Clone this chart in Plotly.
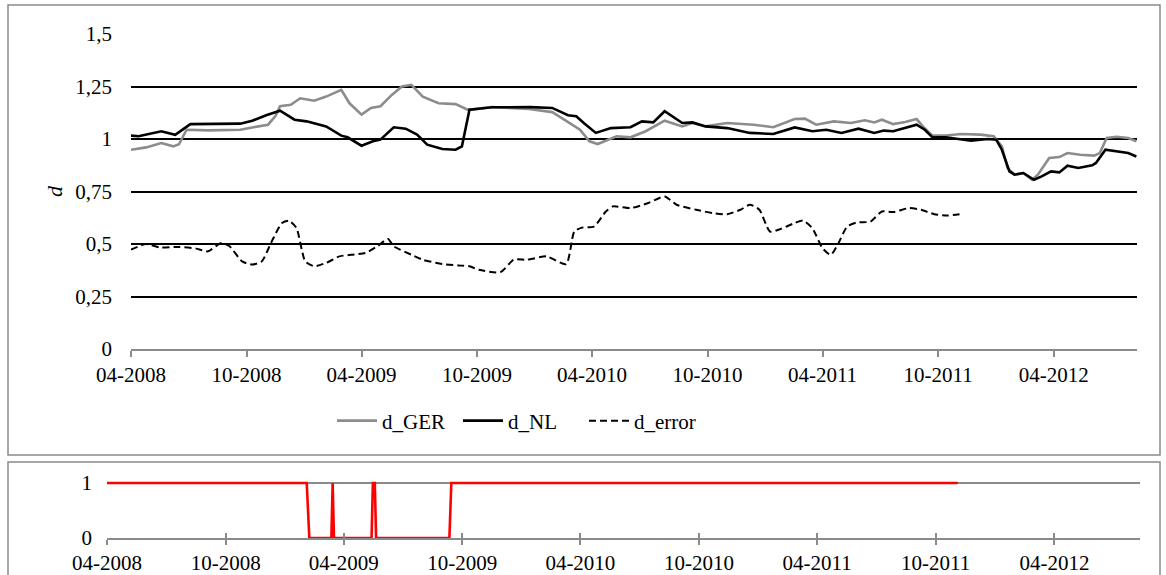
import plotly.graph_objects as go

# ---------------- data ----------------
ger_dates = ["2008-04-01","2008-04-25","2008-05-19","2008-06-07","2008-06-16","2008-06-28","2008-08-01","2008-09-01",
             "2008-09-21","2008-10-10","2008-11-04","2008-11-16","2008-11-23","2008-12-10","2008-12-25","2009-01-16",
             "2009-02-04","2009-02-28","2009-03-13","2009-04-01","2009-04-16","2009-05-01","2009-05-19","2009-06-04",
             "2009-06-19","2009-07-07","2009-08-01","2009-08-28","2009-09-16","2009-09-22","2009-10-25","2009-12-22",
             "2010-01-28","2010-02-16","2010-03-13","2010-03-28","2010-04-10","2010-05-10","2010-06-01","2010-06-25",
             "2010-07-25","2010-08-22","2010-09-07","2010-09-28","2010-11-01","2010-12-13","2011-01-13","2011-02-16",
             "2011-03-04","2011-03-22","2011-04-19","2011-05-16","2011-06-07","2011-06-22","2011-07-04","2011-07-22",
             "2011-08-10","2011-08-28","2011-09-07","2011-09-22","2011-10-13","2011-11-07","2011-12-07","2011-12-28",
             "2012-01-10","2012-01-19","2012-01-30","2012-02-13","2012-02-27","2012-03-07","2012-03-25","2012-04-10",
             "2012-04-23","2012-05-13","2012-06-04","2012-06-13","2012-06-24","2012-07-10","2012-07-28","2012-08-10"]
ger_vals = [0.949,0.960,0.981,0.965,0.975,1.044,1.041,1.043,
            1.044,1.055,1.068,1.110,1.156,1.163,1.194,1.182,
            1.202,1.234,1.170,1.116,1.148,1.156,1.210,1.250,
            1.258,1.202,1.170,1.166,1.140,1.140,1.152,1.143,
            1.128,1.092,1.044,0.989,0.976,1.013,1.008,1.037,
            1.087,1.060,1.076,1.060,1.076,1.068,1.056,1.095,
            1.097,1.068,1.084,1.076,1.089,1.079,1.092,1.071,
            1.081,1.095,1.060,1.016,1.017,1.024,1.021,1.013,
            0.965,0.862,0.830,0.838,0.806,0.830,0.910,0.914,
            0.933,0.925,0.921,0.933,1.005,1.011,1.005,0.989]

nl_dates = ["2008-04-01","2008-04-13","2008-05-19","2008-06-10","2008-07-04","2008-08-16","2008-09-21","2008-10-10",
            "2008-11-01","2008-11-23","2008-12-16","2009-01-04","2009-01-21","2009-02-04","2009-02-28","2009-03-10",
            "2009-04-01","2009-04-19","2009-05-01","2009-05-22","2009-06-10","2009-06-28","2009-07-14","2009-08-07",
            "2009-08-28","2009-09-07","2009-09-19","2009-10-25","2009-12-25","2010-01-28","2010-02-22","2010-03-07",
            "2010-03-19","2010-04-07","2010-05-01","2010-06-01","2010-06-19","2010-07-07","2010-07-25","2010-08-22",
            "2010-09-07","2010-09-28","2010-11-01","2010-12-07","2011-01-13","2011-02-16","2011-03-16","2011-04-07",
            "2011-05-01","2011-05-28","2011-06-22","2011-07-07","2011-07-22","2011-08-13","2011-08-28","2011-09-10",
            "2011-09-22","2011-10-13","2011-11-01","2011-11-22","2011-12-19","2012-01-01","2012-01-10","2012-01-22",
            "2012-01-30","2012-02-13","2012-03-01","2012-03-13","2012-03-28","2012-04-10","2012-04-23","2012-05-10",
            "2012-06-01","2012-06-07","2012-06-22","2012-07-07","2012-07-28","2012-08-10"]
nl_vals = [1.016,1.013,1.037,1.020,1.071,1.072,1.073,1.087,
           1.113,1.135,1.092,1.084,1.071,1.060,1.016,1.008,
           0.968,0.989,0.997,1.056,1.049,1.021,0.973,0.952,
           0.949,0.965,1.140,1.151,1.152,1.148,1.113,1.108,
           1.076,1.029,1.052,1.056,1.084,1.079,1.132,1.076,
           1.079,1.060,1.052,1.029,1.024,1.055,1.037,1.044,
           1.029,1.049,1.029,1.040,1.037,1.056,1.068,1.044,
           1.008,1.008,1.002,0.992,1.000,0.997,0.949,0.846,
           0.830,0.838,0.806,0.822,0.846,0.841,0.873,0.862,
           0.875,0.886,0.949,0.941,0.933,0.917]

err_dates = ["2008-04-01","2008-04-25","2008-05-16","2008-06-16","2008-07-13","2008-08-01","2008-08-22","2008-09-04",
             "2008-09-24","2008-10-10","2008-10-25","2008-11-10","2008-11-26","2008-12-07","2008-12-19","2009-01-02",
             "2009-01-16","2009-02-04","2009-02-25","2009-03-16","2009-04-07","2009-04-26","2009-05-13","2009-05-22",
             "2009-06-19","2009-07-07","2009-08-07","2009-09-01","2009-09-19","2009-10-04","2009-11-07","2009-11-28",
             "2009-12-19","2010-01-19","2010-02-19","2010-03-04","2010-03-16","2010-04-04","2010-04-23","2010-05-04",
             "2010-06-01","2010-06-28","2010-07-25","2010-08-13","2010-09-13","2010-10-10","2010-11-01","2010-11-22",
             "2010-12-07","2010-12-22","2011-01-08","2011-01-25","2011-02-16","2011-03-01","2011-03-16","2011-04-01",
             "2011-04-14","2011-04-25","2011-05-10","2011-05-25","2011-06-16","2011-07-04","2011-07-22","2011-08-16",
             "2011-09-04","2011-09-25","2011-10-16","2011-11-04"]
err_vals = [0.473,0.500,0.484,0.486,0.478,0.465,0.505,0.489,
            0.417,0.402,0.417,0.513,0.600,0.611,0.576,0.417,
            0.394,0.410,0.441,0.449,0.457,0.489,0.524,0.489,
            0.449,0.425,0.405,0.398,0.394,0.377,0.366,0.425,
            0.425,0.441,0.404,0.559,0.578,0.583,0.655,0.679,
            0.671,0.694,0.726,0.687,0.663,0.647,0.642,0.663,
            0.687,0.663,0.559,0.572,0.600,0.612,0.575,0.480,
            0.448,0.496,0.583,0.602,0.607,0.655,0.652,0.671,
            0.663,0.642,0.636,0.642]

regime_dates = ["2008-04-01","2009-02-03","2009-02-07","2009-03-13","2009-03-15","2009-03-17","2009-05-14",
                "2009-05-16","2009-05-19","2009-05-21","2009-09-11","2009-09-14","2011-11-04"]
regime_vals = [1,1,0,0,1,0,0,1,1,0,0,1,1]

y_ticks = [0, 0.25, 0.5, 0.75, 1, 1.25, 1.5]
y_ticktext = ["0", "0,25", "0,5", "0,75", "1", "1,25", "1,5"]
x_range = ["2008-04-01", "2012-08-11"]

# ---------------- figure ----------------
W, H = 1166, 575
FONT = "Liberation Serif"
GREY = "#8a8a8a"

def px_x(p):
    return p / W

def px_y(p):
    return (H - p) / H

fig = go.Figure()
fig.add_trace(go.Scatter(x=ger_dates, y=ger_vals, name="d_GER", mode="lines",
                         line=dict(color="#8c8c8c", width=2.6), xaxis="x", yaxis="y"))
fig.add_trace(go.Scatter(x=nl_dates, y=nl_vals, name="d_NL", mode="lines",
                         line=dict(color="#000000", width=2.6), xaxis="x", yaxis="y"))
fig.add_trace(go.Scatter(x=err_dates, y=err_vals, name="d_error", mode="lines",
                         line=dict(color="#000000", width=2, dash="7px,4px", shape="spline", smoothing=0.6),
                         xaxis="x", yaxis="y"))
fig.add_trace(go.Scatter(x=regime_dates, y=regime_vals, name="regime", mode="lines", showlegend=False,
                         line=dict(color="#ff0000", width=2.6), xaxis="x2", yaxis="y2"))
fig.add_trace(go.Scatter(x=regime_dates[:1], y=regime_vals[:1], mode="markers", showlegend=False,
                         marker=dict(opacity=0), hoverinfo="skip", xaxis="x3", yaxis="y2"))

tickfont = dict(family=FONT, size=21, color="#000000")

fig.update_layout(
    width=W, height=H, autosize=False,
    margin=dict(l=0, r=0, t=0, b=0, autoexpand=False),
    paper_bgcolor="white", plot_bgcolor="white",
    font=dict(family=FONT, size=21, color="#000000"),
    showlegend=True,
    legend=dict(orientation="h", x=px_x(332), y=px_y(421), xanchor="left", yanchor="middle",
                font=dict(family=FONT, size=21, color="#000000"), bgcolor="rgba(0,0,0,0)",
                itemwidth=40, tracegroupgap=0, entrywidth=71, entrywidthmode="pixels"),
    xaxis=dict(domain=[px_x(131), px_x(1137)], anchor="y", type="date", range=x_range,
               tick0="2008-04-01", dtick="M6", tickformat="%m-%Y", automargin=False,
               showline=True, linecolor=GREY, linewidth=1.5,
               ticks="outside", ticklen=6, tickcolor=GREY, tickwidth=1.5,
               showgrid=False, zeroline=False, tickfont=tickfont),
    yaxis=dict(domain=[px_y(349), px_y(34)], anchor="x", range=[0, 1.5], automargin=False,
               tickvals=y_ticks, ticktext=y_ticktext,
               showgrid=True, gridcolor="#000000", gridwidth=1.5,
               showline=False, zeroline=False, ticks="", ticklabelstandoff=18,
               tickfont=tickfont,
               title=dict(text="<i>d</i>", font=dict(family=FONT, size=22), standoff=6)),
    xaxis2=dict(domain=[px_x(107), px_x(1140)], anchor="y2", type="date", range=x_range,
                tick0="2008-04-01", dtick="M6", tickformat="%m-%Y", automargin=False,
                showline=True, linecolor=GREY, linewidth=1.5,
                ticks="outside", ticklen=5, tickcolor=GREY, tickwidth=1.5,
                showgrid=False, zeroline=False, tickfont=tickfont),
    xaxis3=dict(overlaying="x2", anchor="y2", type="date", range=x_range, automargin=False,
                tick0="2008-04-01", dtick="M6", showticklabels=False,
                ticks="inside", ticklen=5, tickcolor=GREY, tickwidth=1.5,
                showline=False, showgrid=False, zeroline=False),
    yaxis2=dict(domain=[px_y(538), px_y(474.75)], anchor="x2", range=[0, 1.15], automargin=False,
                tickvals=[0, 1], ticktext=["0", "1"],
                showgrid=True, gridcolor=GREY, gridwidth=1.5,
                showline=False, zeroline=False, ticks="", ticklabelstandoff=14,
                tickfont=tickfont),
    shapes=[
        dict(type="rect", xref="paper", yref="paper",
             x0=px_x(8), x1=px_x(1160), y0=px_y(455), y1=px_y(5),
             line=dict(color=GREY, width=1.5), fillcolor="rgba(0,0,0,0)", layer="below"),
        dict(type="rect", xref="paper", yref="paper",
             x0=px_x(8), x1=px_x(1160), y0=px_y(590), y1=px_y(462),
             line=dict(color=GREY, width=1.5), fillcolor="rgba(0,0,0,0)", layer="below"),
    ],
)

fig.write_html("out.html")
